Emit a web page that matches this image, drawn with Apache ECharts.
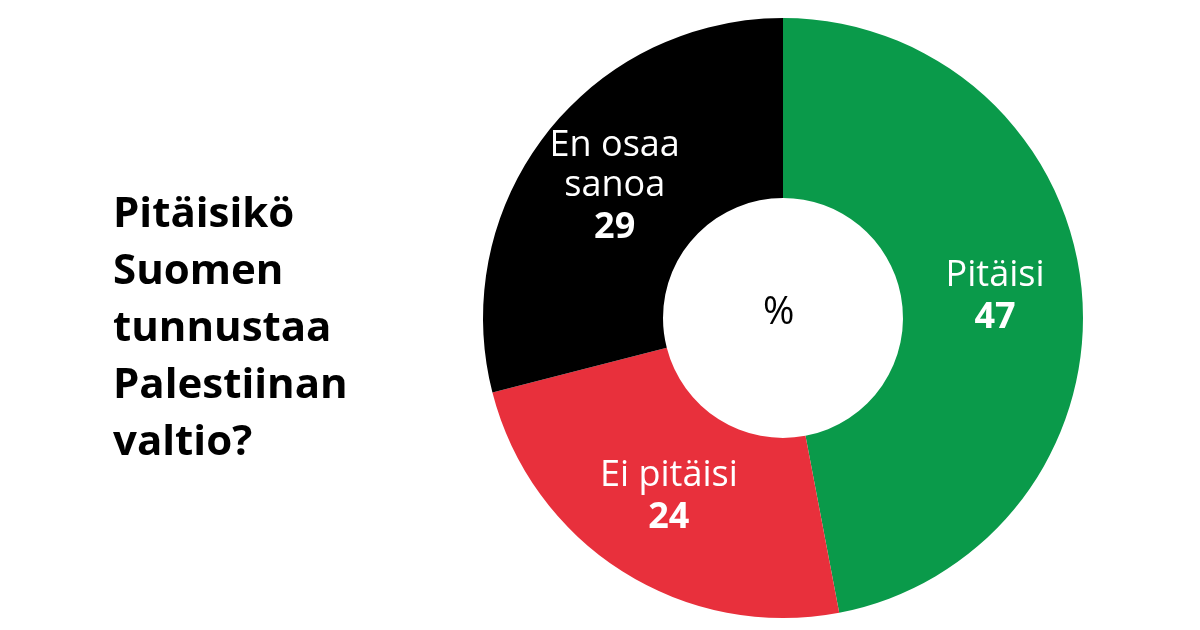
<!DOCTYPE html>
<html>
<head>
<meta charset="utf-8">
<script src="https://cdn.jsdelivr.net/npm/echarts@6/dist/echarts.min.js"></script>
<style>
  html, body { margin: 0; padding: 0; background: #fff; }
  #chart { width: 1200px; height: 630px; }
</style>
</head>
<body>
<div id="chart"></div>
<script>
// data
var categories = ['Pitäisi', 'Ei pitäisi', 'En osaa\nsanoa'];
var values = [47, 24, 29];
var colors = ['#0a9a4a', '#e8303c', '#000000'];

var myChart = echarts.init(document.getElementById('chart'));

var option = {
    backgroundColor: '#ffffff',
    title: {
        text: 'Pitäisikö\nSuomen\ntunnustaa\nPalestiinan\nvaltio?',
        left: 108,
        top: 182,
        textStyle: {
            fontFamily: 'Open Sans',
            fontSize: 42,
            fontWeight: 'bold',
            lineHeight: 57,
            color: '#000'
        }
    },
    graphic: [{
        type: 'text',
        left: 763,
        top: 294,
        style: { text: '%', fontSize: 38, fontFamily: 'Open Sans', fill: '#000' }
    }],
    series: [{
        type: 'pie',
        center: [783, 318],
        radius: [120, 300],
        startAngle: 90,
        clockwise: true,
        silent: true,
        data: categories.map(function (c, i) {
            return { name: c, value: values[i], itemStyle: { color: colors[i] } };
        }),
        label: {
            show: true,
            position: 'inside',
            formatter: '{n|{b}}\n{v|{c}}',
            rich: {
                n: { fontFamily: 'Open Sans', fontSize: 36, color: '#fff', lineHeight: 40 },
                v: { fontFamily: 'Open Sans', fontSize: 36, fontWeight: 'bold', color: '#fff', lineHeight: 44 }
            }
        },
        labelLine: { show: false }
    }]
};

myChart.setOption(option);
</script>
</body>
</html>
